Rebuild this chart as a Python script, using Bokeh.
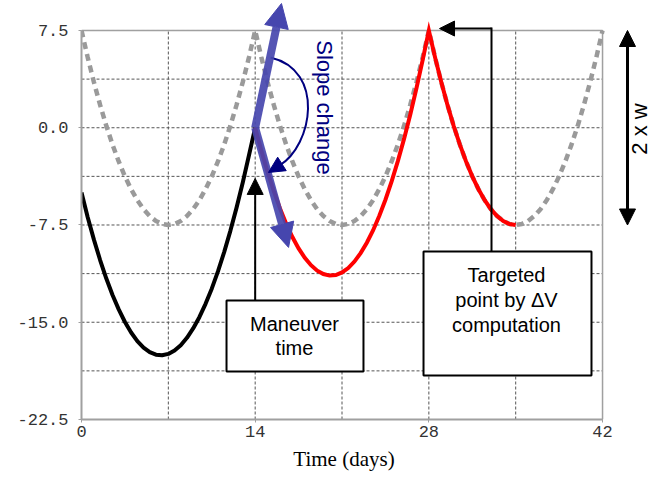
import numpy as np
from bokeh.plotting import figure
from bokeh.layouts import row
from bokeh.models import (Range1d, FixedTicker, Arrow, NormalHead, Label,
                          BoxAnnotation, NumeralTickFormatter)
from bokeh.embed import file_html
from bokeh.resources import INLINE

# ---------------- data ----------------
# half-day samples
days_gray = [i * 0.5 for i in range(0, 85)]
y_gray = [7.5, 5.43, 3.52, 1.76, 0.15, -1.3, -2.6, -3.75, -4.74, -5.59, -6.28, -6.81, -7.19, -7.42,
          -7.5, -7.42, -7.19, -6.81, -6.28, -5.59, -4.74, -3.75, -2.6, -1.3, 0.15, 1.76, 3.52, 5.43,
          7.5, 5.43, 3.52, 1.76, 0.15, -1.3, -2.6, -3.75, -4.74, -5.59, -6.28, -6.81, -7.19, -7.42,
          -7.5, -7.42, -7.19, -6.81, -6.28, -5.59, -4.74, -3.75, -2.6, -1.3, 0.15, 1.76, 3.52, 5.43,
          7.5, 5.43, 3.52, 1.76, 0.15, -1.3, -2.6, -3.75, -4.74, -5.59, -6.28, -6.81, -7.19, -7.42,
          -7.5, -7.42, -7.19, -6.81, -6.28, -5.59, -4.74, -3.75, -2.6, -1.3, 0.15, 1.76, 3.52, 5.43,
          7.5]

days_black = [i * 0.5 for i in range(0, 29)]
y_black = [-5.0, -6.9, -8.63, -10.2, -11.63, -12.9, -14.01, -14.98, -15.79, -16.45,
           -16.95, -17.3, -17.5, -17.55, -17.44, -17.18, -16.77, -16.2, -15.48, -14.61,
           -13.58, -12.41, -11.08, -9.59, -7.95, -6.16, -4.22, -2.12, 0.0]

days_red = [14 + i * 0.5 for i in range(0, 43)]
y_red = [0.0, -1.77, -3.41, -4.89, -6.22, -7.4, -8.43, -9.31, -10.03, -10.6, -11.02, -11.28,
         -11.4, -11.36, -11.16, -10.82, -10.32, -9.67, -8.87, -7.92, -6.81, -5.55, -4.14,
         -2.57, -0.86, 1.01, 3.04, 5.21, 7.5, 5.43, 3.52, 1.76, 0.15, -1.3, -2.6, -3.75,
         -4.74, -5.59, -6.28, -6.81, -7.19, -7.42, -7.5]

x_major = [0, 14, 28, 42]
x_minor = [7, 21, 35]
y_major = [-22.5, -15.0, -7.5, 0.0, 7.5]
y_minor = [-18.75, -11.25, -3.75, 3.75]

X0, X1 = min(x_major), max(x_major)
Y0, Y1 = min(y_major), max(y_major)

# ---------------- main figure ----------------
p = figure(width=614, height=476, output_backend="svg", toolbar_location=None,
           x_range=Range1d(0, 42.32), y_range=Range1d(-22.5, 9.8136),
           min_border_left=81, min_border_right=8, min_border_top=0,
           min_border_bottom=57)
p.background_fill_color = "white"
p.border_fill_color = "white"
p.outline_line_color = None
p.grid.visible = False

p.xaxis.ticker = FixedTicker(ticks=x_major, minor_ticks=x_minor)
p.yaxis.ticker = FixedTicker(ticks=y_major, minor_ticks=y_minor)
p.xaxis.formatter = NumeralTickFormatter(format="0")
p.yaxis.formatter = NumeralTickFormatter(format="0.0")
p.xaxis.bounds = (X0, X1)
p.yaxis.bounds = (Y0, Y1)

for ax in (p.xaxis, p.yaxis):
    ax.axis_line_color = "#a0a0a0"
    ax.axis_line_width = 2
    ax.major_tick_line_color = "#a0a0a0"
    ax.major_tick_out = 3
    ax.major_tick_in = 0
    ax.minor_tick_out = 0
    ax.minor_tick_in = 0
    ax.major_label_text_font = "Liberation Mono"
    ax.major_label_text_font_size = "17px"
    ax.major_label_text_color = "#333333"
p.yaxis.major_label_standoff = 10
p.xaxis.major_label_standoff = 3

p.xaxis.axis_label = "Time (days)"
p.xaxis.axis_label_text_font = "Liberation Serif"
p.xaxis.axis_label_text_font_size = "21px"
p.xaxis.axis_label_text_font_style = "normal"
p.xaxis.axis_label_text_color = "black"
p.xaxis.axis_label_standoff = 7

# grid (dashed), limited to the plotting box
gx = sorted(x_major + x_minor)
gy = sorted(y_major + y_minor)
p.segment(x0=gx, y0=[Y0] * len(gx), x1=gx, y1=[Y1] * len(gx),
          line_color="#555555", line_width=1, line_dash="3 2")
p.segment(x0=[X0] * len(gy), y0=gy, x1=[X1] * len(gy), y1=gy,
          line_color="#555555", line_width=1, line_dash="3 2")
# top and right border of the box
p.segment(x0=[X0, X1], y0=[Y1, Y0], x1=[X1, X1], y1=[Y1, Y1],
          line_color="#a0a0a0", line_width=1.5)

# ---------------- curves ----------------
p.line(days_gray, y_gray, line_color="#9a9a9a", line_width=4.5, line_dash="7 5")
p.line(days_black, y_black, line_color="black", line_width=4, line_join="round")
p.line(days_red, y_red, line_color="red", line_width=4, line_join="miter")

# ---------------- slope arrows ----------------
blue = "#4646ae"
for xe, ye in ((16.12, 9.58), (16.69, -9.23)):
    p.add_layout(Arrow(x_start=14, y_start=0, x_end=xe, y_end=ye,
                       line_color=blue, line_width=8, line_alpha=0.92,
                       end=NormalHead(size=24, fill_color=blue, line_color=blue,
                                      hatch_pattern="+", hatch_color="#1c1c80",
                                      hatch_scale=4, hatch_weight=1)))

navy = "#000080"
p.bezier(x0=[15.24], y0=[5.42], x1=[15.96], y1=[-2.91],
         cx0=[19.67], cy0=[4.42], cx1=[18.62], cy1=[-1.37],
         line_color=navy, line_width=2)
p.add_layout(Arrow(x_start=15.96, y_start=-2.91, x_end=15.07, y_end=-3.45,
                   line_color=navy, line_width=2,
                   end=NormalHead(size=16, fill_color=navy, line_color=navy)))
p.add_layout(Label(x=19.55, y=1.56, text="Slope change", angle=-np.pi / 2,
                   text_align="center", text_baseline="middle",
                   text_font="Liberation Sans", text_font_size="22px",
                   text_color=navy))

# ---------------- Maneuver box ----------------
p.add_layout(Arrow(x_start=14, y_start=-13.32, x_end=14, y_end=-3.91,
                   line_color="black", line_width=2,
                   end=NormalHead(size=16, fill_color="black", line_color="black")))
p.add_layout(BoxAnnotation(left=11.69, right=22.73, top=-13.32, bottom=-18.80,
                           fill_color="white", fill_alpha=1.0,
                           line_color="black", line_alpha=1.0, line_width=2))
for txt, yy in (("Maneuver", -15.1), ("time", -16.95)):
    p.add_layout(Label(x=17.17, y=yy, text=txt, text_align="center",
                       text_baseline="middle", text_font="Liberation Sans",
                       text_font_size="20px", text_color="black"))

# ---------------- Targeted box ----------------
p.add_layout(Arrow(x_start=33.05, y_start=-9.54, x_end=33.05, y_end=7.65,
                   line_color="black", line_width=2, line_cap="square", end=None))
p.add_layout(Arrow(x_start=33.05, y_start=7.65, x_end=28.86, y_end=7.65,
                   line_color="black", line_width=2,
                   end=NormalHead(size=15, fill_color="black", line_color="black")))
p.add_layout(BoxAnnotation(left=27.57, right=41.11, top=-9.54, bottom=-19.11,
                           fill_color="white", fill_alpha=1.0,
                           line_color="black", line_alpha=1.0, line_width=2))
for txt, yy in (("Targeted", -11.39), ("point by \u0394V", -13.32), ("computation", -15.25)):
    p.add_layout(Label(x=34.26, y=yy, text=txt, text_align="center",
                       text_baseline="middle", text_font="Liberation Sans",
                       text_font_size="20px", text_color="black"))

# ---------------- right strip: 2 x w ----------------
p2 = figure(width=38, height=476, output_backend="svg", toolbar_location=None,
            x_range=Range1d(0, 38), y_range=p.y_range,
            x_axis_location=None, y_axis_location=None,
            min_border_left=0, min_border_right=0, min_border_top=0,
            min_border_bottom=57)
p2.grid.visible = False
p2.outline_line_color = None
p2.background_fill_color = "white"
p2.border_fill_color = "white"
p2.add_layout(Arrow(x_start=13, y_start=7.5, x_end=13, y_end=-7.5,
                    line_color="black", line_width=3,
                    start=NormalHead(size=16, fill_color="black", line_color="black"),
                    end=NormalHead(size=16, fill_color="black", line_color="black")))
p2.add_layout(Label(x=24.5, y=-0.1, text="2 x w", angle=np.pi / 2,
                    text_align="center", text_baseline="middle",
                    text_font="Liberation Sans", text_font_size="22px",
                    text_color="black"))

layout = row(p, p2, spacing=0)
open("out.html", "w").write(file_html(layout, INLINE))
